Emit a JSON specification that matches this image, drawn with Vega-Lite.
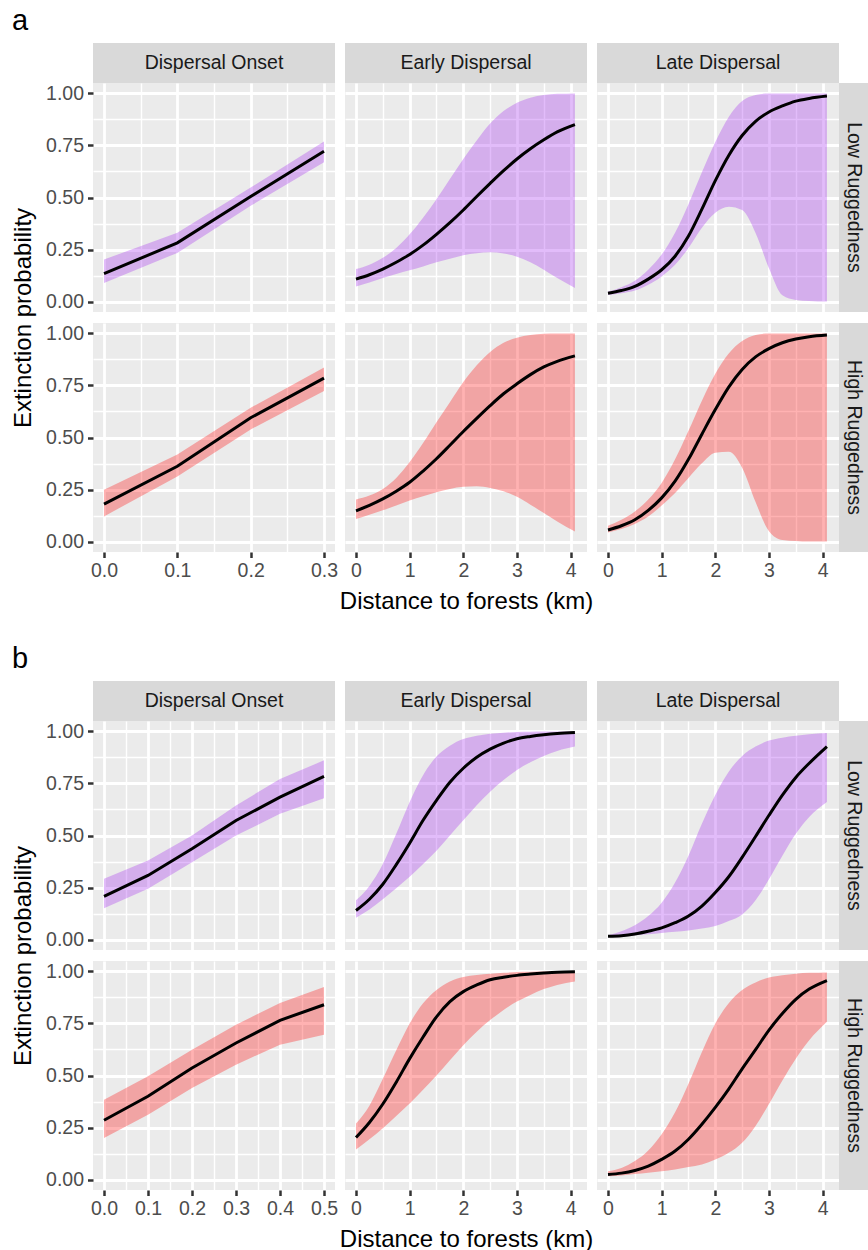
{
"$schema":"https://vega.github.io/schema/vega-lite/v6.json",
"padding":{"left":11,"top":7,"right":0,"bottom":0},
"config":{"font":"Liberation Sans","view":{"stroke":null},
 "axis":{"domain":false,"gridColor":"white","tickColor":"#333333","tickWidth":2.5,"tickSize":5.5,"labelColor":"#4D4D4D","labelFontSize":19.5,"labelPadding":4,"titleFontSize":24,"titleFontWeight":"normal","titleColor":"black","labelOverlap":false,"labelFlush":false}},
"data":{"values":[
{"p":"a","s":"Onset","r":"Low","x":0,"e":0.134,"lo":0.089,"hi":0.202},
{"p":"a","s":"Onset","r":"Low","x":0.1,"e":0.282,"lo":0.234,"hi":0.331},
{"p":"a","s":"Onset","r":"Low","x":0.2,"e":0.505,"lo":0.46,"hi":0.548},
{"p":"a","s":"Onset","r":"Low","x":0.3,"e":0.722,"lo":0.669,"hi":0.769},
{"p":"a","s":"Onset","r":"High","x":0,"e":0.18,"lo":0.121,"hi":0.249},
{"p":"a","s":"Onset","r":"High","x":0.1,"e":0.362,"lo":0.313,"hi":0.418},
{"p":"a","s":"Onset","r":"High","x":0.2,"e":0.595,"lo":0.539,"hi":0.643},
{"p":"a","s":"Onset","r":"High","x":0.3,"e":0.785,"lo":0.723,"hi":0.836},
{"p":"a","s":"Early","r":"Low","x":0,"e":0.108,"lo":0.073,"hi":0.156},
{"p":"a","s":"Early","r":"Low","x":0.25,"e":0.129,"lo":0.092,"hi":0.177},
{"p":"a","s":"Early","r":"Low","x":0.5,"e":0.156,"lo":0.113,"hi":0.21},
{"p":"a","s":"Early","r":"Low","x":0.75,"e":0.189,"lo":0.132,"hi":0.258},
{"p":"a","s":"Early","r":"Low","x":1,"e":0.226,"lo":0.15,"hi":0.323},
{"p":"a","s":"Early","r":"Low","x":1.25,"e":0.271,"lo":0.169,"hi":0.403},
{"p":"a","s":"Early","r":"Low","x":1.5,"e":0.323,"lo":0.189,"hi":0.492},
{"p":"a","s":"Early","r":"Low","x":1.75,"e":0.379,"lo":0.206,"hi":0.589},
{"p":"a","s":"Early","r":"Low","x":2,"e":0.44,"lo":0.223,"hi":0.685},
{"p":"a","s":"Early","r":"Low","x":2.25,"e":0.505,"lo":0.232,"hi":0.774},
{"p":"a","s":"Early","r":"Low","x":2.5,"e":0.568,"lo":0.237,"hi":0.855},
{"p":"a","s":"Early","r":"Low","x":2.75,"e":0.629,"lo":0.231,"hi":0.915},
{"p":"a","s":"Early","r":"Low","x":3,"e":0.685,"lo":0.215,"hi":0.955},
{"p":"a","s":"Early","r":"Low","x":3.25,"e":0.734,"lo":0.189,"hi":0.979},
{"p":"a","s":"Early","r":"Low","x":3.5,"e":0.777,"lo":0.153,"hi":0.992},
{"p":"a","s":"Early","r":"Low","x":3.75,"e":0.815,"lo":0.113,"hi":0.998},
{"p":"a","s":"Early","r":"Low","x":4.08,"e":0.85,"lo":0.065,"hi":1.0},
{"p":"a","s":"Early","r":"High","x":0,"e":0.148,"lo":0.108,"hi":0.202},
{"p":"a","s":"Early","r":"High","x":0.25,"e":0.174,"lo":0.129,"hi":0.221},
{"p":"a","s":"Early","r":"High","x":0.5,"e":0.205,"lo":0.15,"hi":0.253},
{"p":"a","s":"Early","r":"High","x":0.75,"e":0.242,"lo":0.173,"hi":0.306},
{"p":"a","s":"Early","r":"High","x":1,"e":0.285,"lo":0.197,"hi":0.382},
{"p":"a","s":"Early","r":"High","x":1.25,"e":0.339,"lo":0.218,"hi":0.473},
{"p":"a","s":"Early","r":"High","x":1.5,"e":0.398,"lo":0.237,"hi":0.573},
{"p":"a","s":"Early","r":"High","x":1.75,"e":0.463,"lo":0.253,"hi":0.669},
{"p":"a","s":"Early","r":"High","x":2,"e":0.529,"lo":0.263,"hi":0.766},
{"p":"a","s":"Early","r":"High","x":2.25,"e":0.592,"lo":0.266,"hi":0.847},
{"p":"a","s":"Early","r":"High","x":2.5,"e":0.653,"lo":0.258,"hi":0.911},
{"p":"a","s":"Early","r":"High","x":2.75,"e":0.71,"lo":0.242,"hi":0.955},
{"p":"a","s":"Early","r":"High","x":3,"e":0.758,"lo":0.215,"hi":0.979},
{"p":"a","s":"Early","r":"High","x":3.25,"e":0.802,"lo":0.177,"hi":0.992},
{"p":"a","s":"Early","r":"High","x":3.5,"e":0.839,"lo":0.137,"hi":0.998},
{"p":"a","s":"Early","r":"High","x":3.75,"e":0.866,"lo":0.097,"hi":1.0},
{"p":"a","s":"Early","r":"High","x":4.08,"e":0.892,"lo":0.048,"hi":1.0},
{"p":"a","s":"Late","r":"Low","x":0,"e":0.04,"lo":0.032,"hi":0.048},
{"p":"a","s":"Late","r":"Low","x":0.25,"e":0.053,"lo":0.04,"hi":0.069},
{"p":"a","s":"Late","r":"Low","x":0.5,"e":0.073,"lo":0.053,"hi":0.10},
{"p":"a","s":"Late","r":"Low","x":0.75,"e":0.108,"lo":0.081,"hi":0.153},
{"p":"a","s":"Late","r":"Low","x":1,"e":0.153,"lo":0.121,"hi":0.226},
{"p":"a","s":"Late","r":"Low","x":1.25,"e":0.218,"lo":0.177,"hi":0.331},
{"p":"a","s":"Late","r":"Low","x":1.5,"e":0.315,"lo":0.258,"hi":0.468},
{"p":"a","s":"Late","r":"Low","x":1.75,"e":0.444,"lo":0.355,"hi":0.621},
{"p":"a","s":"Late","r":"Low","x":2,"e":0.581,"lo":0.427,"hi":0.766},
{"p":"a","s":"Late","r":"Low","x":2.25,"e":0.702,"lo":0.456,"hi":0.887},
{"p":"a","s":"Late","r":"Low","x":2.5,"e":0.798,"lo":0.44,"hi":0.963},
{"p":"a","s":"Late","r":"Low","x":2.75,"e":0.866,"lo":0.33,"hi":0.992},
{"p":"a","s":"Late","r":"Low","x":3,"e":0.911,"lo":0.16,"hi":1.0},
{"p":"a","s":"Late","r":"Low","x":3.25,"e":0.94,"lo":0.03,"hi":1.0},
{"p":"a","s":"Late","r":"Low","x":3.5,"e":0.963,"lo":0.008,"hi":1.0},
{"p":"a","s":"Late","r":"Low","x":3.75,"e":0.976,"lo":0.003,"hi":1.0},
{"p":"a","s":"Late","r":"Low","x":4.08,"e":0.987,"lo":0.0,"hi":1.0},
{"p":"a","s":"Late","r":"High","x":0,"e":0.056,"lo":0.044,"hi":0.076},
{"p":"a","s":"Late","r":"High","x":0.25,"e":0.076,"lo":0.06,"hi":0.105},
{"p":"a","s":"Late","r":"High","x":0.5,"e":0.105,"lo":0.085,"hi":0.145},
{"p":"a","s":"Late","r":"High","x":0.75,"e":0.15,"lo":0.121,"hi":0.202},
{"p":"a","s":"Late","r":"High","x":1,"e":0.21,"lo":0.173,"hi":0.282},
{"p":"a","s":"Late","r":"High","x":1.25,"e":0.29,"lo":0.234,"hi":0.395},
{"p":"a","s":"Late","r":"High","x":1.5,"e":0.395,"lo":0.306,"hi":0.532},
{"p":"a","s":"Late","r":"High","x":1.75,"e":0.516,"lo":0.376,"hi":0.677},
{"p":"a","s":"Late","r":"High","x":2,"e":0.634,"lo":0.427,"hi":0.806},
{"p":"a","s":"Late","r":"High","x":2.25,"e":0.742,"lo":0.432,"hi":0.903},
{"p":"a","s":"Late","r":"High","x":2.5,"e":0.827,"lo":0.355,"hi":0.963},
{"p":"a","s":"Late","r":"High","x":2.75,"e":0.887,"lo":0.19,"hi":0.992},
{"p":"a","s":"Late","r":"High","x":3,"e":0.927,"lo":0.05,"hi":1.0},
{"p":"a","s":"Late","r":"High","x":3.25,"e":0.955,"lo":0.008,"hi":1.0},
{"p":"a","s":"Late","r":"High","x":3.5,"e":0.973,"lo":0.003,"hi":1.0},
{"p":"a","s":"Late","r":"High","x":3.75,"e":0.984,"lo":0.0,"hi":1.0},
{"p":"a","s":"Late","r":"High","x":4.08,"e":0.992,"lo":0.0,"hi":1.0},
{"p":"b","s":"Onset","r":"Low","x":0,"e":0.208,"lo":0.151,"hi":0.292},
{"p":"b","s":"Onset","r":"Low","x":0.1,"e":0.308,"lo":0.244,"hi":0.38},
{"p":"b","s":"Onset","r":"Low","x":0.2,"e":0.436,"lo":0.372,"hi":0.5},
{"p":"b","s":"Onset","r":"Low","x":0.3,"e":0.572,"lo":0.5,"hi":0.644},
{"p":"b","s":"Onset","r":"Low","x":0.4,"e":0.684,"lo":0.604,"hi":0.772},
{"p":"b","s":"Onset","r":"Low","x":0.5,"e":0.784,"lo":0.679,"hi":0.861},
{"p":"b","s":"Onset","r":"High","x":0,"e":0.285,"lo":0.2,"hi":0.384},
{"p":"b","s":"Onset","r":"High","x":0.1,"e":0.40,"lo":0.312,"hi":0.496},
{"p":"b","s":"Onset","r":"High","x":0.2,"e":0.536,"lo":0.44,"hi":0.624},
{"p":"b","s":"Onset","r":"High","x":0.3,"e":0.656,"lo":0.552,"hi":0.744},
{"p":"b","s":"Onset","r":"High","x":0.4,"e":0.765,"lo":0.648,"hi":0.848},
{"p":"b","s":"Onset","r":"High","x":0.5,"e":0.84,"lo":0.696,"hi":0.925},
{"p":"b","s":"Early","r":"Low","x":0,"e":0.14,"lo":0.105,"hi":0.189},
{"p":"b","s":"Early","r":"Low","x":0.25,"e":0.194,"lo":0.145,"hi":0.258},
{"p":"b","s":"Early","r":"Low","x":0.5,"e":0.266,"lo":0.194,"hi":0.363},
{"p":"b","s":"Early","r":"Low","x":0.75,"e":0.36,"lo":0.247,"hi":0.508},
{"p":"b","s":"Early","r":"Low","x":1,"e":0.463,"lo":0.302,"hi":0.661},
{"p":"b","s":"Early","r":"Low","x":1.25,"e":0.573,"lo":0.363,"hi":0.79},
{"p":"b","s":"Early","r":"Low","x":1.5,"e":0.669,"lo":0.427,"hi":0.879},
{"p":"b","s":"Early","r":"Low","x":1.75,"e":0.756,"lo":0.5,"hi":0.931},
{"p":"b","s":"Early","r":"Low","x":2,"e":0.823,"lo":0.573,"hi":0.963},
{"p":"b","s":"Early","r":"Low","x":2.25,"e":0.876,"lo":0.645,"hi":0.979},
{"p":"b","s":"Early","r":"Low","x":2.5,"e":0.915,"lo":0.71,"hi":0.989},
{"p":"b","s":"Early","r":"Low","x":2.75,"e":0.944,"lo":0.766,"hi":0.994},
{"p":"b","s":"Early","r":"Low","x":3,"e":0.965,"lo":0.815,"hi":0.997},
{"p":"b","s":"Early","r":"Low","x":3.25,"e":0.976,"lo":0.852,"hi":0.998},
{"p":"b","s":"Early","r":"Low","x":3.5,"e":0.984,"lo":0.882,"hi":0.999},
{"p":"b","s":"Early","r":"Low","x":3.75,"e":0.99,"lo":0.906,"hi":1.0},
{"p":"b","s":"Early","r":"Low","x":4.08,"e":0.995,"lo":0.927,"hi":1.0},
{"p":"b","s":"Early","r":"High","x":0,"e":0.202,"lo":0.145,"hi":0.269},
{"p":"b","s":"Early","r":"High","x":0.25,"e":0.274,"lo":0.194,"hi":0.355},
{"p":"b","s":"Early","r":"High","x":0.5,"e":0.363,"lo":0.247,"hi":0.484},
{"p":"b","s":"Early","r":"High","x":0.75,"e":0.468,"lo":0.306,"hi":0.621},
{"p":"b","s":"Early","r":"High","x":1,"e":0.581,"lo":0.366,"hi":0.75},
{"p":"b","s":"Early","r":"High","x":1.25,"e":0.685,"lo":0.431,"hi":0.847},
{"p":"b","s":"Early","r":"High","x":1.5,"e":0.782,"lo":0.5,"hi":0.911},
{"p":"b","s":"Early","r":"High","x":1.75,"e":0.855,"lo":0.573,"hi":0.952},
{"p":"b","s":"Early","r":"High","x":2,"e":0.903,"lo":0.645,"hi":0.973},
{"p":"b","s":"Early","r":"High","x":2.25,"e":0.935,"lo":0.71,"hi":0.983},
{"p":"b","s":"Early","r":"High","x":2.5,"e":0.96,"lo":0.766,"hi":0.989},
{"p":"b","s":"Early","r":"High","x":2.75,"e":0.972,"lo":0.815,"hi":0.993},
{"p":"b","s":"Early","r":"High","x":3,"e":0.981,"lo":0.855,"hi":0.997},
{"p":"b","s":"Early","r":"High","x":3.25,"e":0.987,"lo":0.887,"hi":0.998},
{"p":"b","s":"Early","r":"High","x":3.5,"e":0.992,"lo":0.915,"hi":0.999},
{"p":"b","s":"Early","r":"High","x":3.75,"e":0.996,"lo":0.935,"hi":1.0},
{"p":"b","s":"Early","r":"High","x":4.08,"e":0.998,"lo":0.952,"hi":1.0},
{"p":"b","s":"Late","r":"Low","x":0,"e":0.016,"lo":0.011,"hi":0.021},
{"p":"b","s":"Late","r":"Low","x":0.25,"e":0.019,"lo":0.015,"hi":0.04},
{"p":"b","s":"Late","r":"Low","x":0.5,"e":0.027,"lo":0.021,"hi":0.069},
{"p":"b","s":"Late","r":"Low","x":0.75,"e":0.04,"lo":0.026,"hi":0.113},
{"p":"b","s":"Late","r":"Low","x":1,"e":0.056,"lo":0.032,"hi":0.177},
{"p":"b","s":"Late","r":"Low","x":1.25,"e":0.081,"lo":0.038,"hi":0.274},
{"p":"b","s":"Late","r":"Low","x":1.5,"e":0.113,"lo":0.044,"hi":0.403},
{"p":"b","s":"Late","r":"Low","x":1.75,"e":0.161,"lo":0.053,"hi":0.556},
{"p":"b","s":"Late","r":"Low","x":2,"e":0.226,"lo":0.065,"hi":0.694},
{"p":"b","s":"Late","r":"Low","x":2.25,"e":0.302,"lo":0.089,"hi":0.806},
{"p":"b","s":"Late","r":"Low","x":2.5,"e":0.395,"lo":0.121,"hi":0.882},
{"p":"b","s":"Late","r":"Low","x":2.75,"e":0.495,"lo":0.189,"hi":0.927},
{"p":"b","s":"Late","r":"Low","x":3,"e":0.597,"lo":0.29,"hi":0.956},
{"p":"b","s":"Late","r":"Low","x":3.25,"e":0.694,"lo":0.403,"hi":0.97},
{"p":"b","s":"Late","r":"Low","x":3.5,"e":0.779,"lo":0.508,"hi":0.979},
{"p":"b","s":"Late","r":"Low","x":3.75,"e":0.847,"lo":0.589,"hi":0.986},
{"p":"b","s":"Late","r":"Low","x":4.08,"e":0.927,"lo":0.661,"hi":0.992},
{"p":"b","s":"Late","r":"High","x":0,"e":0.024,"lo":0.016,"hi":0.04},
{"p":"b","s":"Late","r":"High","x":0.25,"e":0.031,"lo":0.02,"hi":0.056},
{"p":"b","s":"Late","r":"High","x":0.5,"e":0.044,"lo":0.027,"hi":0.089},
{"p":"b","s":"Late","r":"High","x":0.75,"e":0.065,"lo":0.033,"hi":0.14},
{"p":"b","s":"Late","r":"High","x":1,"e":0.097,"lo":0.04,"hi":0.218},
{"p":"b","s":"Late","r":"High","x":1.25,"e":0.137,"lo":0.048,"hi":0.323},
{"p":"b","s":"Late","r":"High","x":1.5,"e":0.194,"lo":0.06,"hi":0.46},
{"p":"b","s":"Late","r":"High","x":1.75,"e":0.266,"lo":0.073,"hi":0.613},
{"p":"b","s":"Late","r":"High","x":2,"e":0.347,"lo":0.097,"hi":0.75},
{"p":"b","s":"Late","r":"High","x":2.25,"e":0.435,"lo":0.129,"hi":0.847},
{"p":"b","s":"Late","r":"High","x":2.5,"e":0.532,"lo":0.177,"hi":0.911},
{"p":"b","s":"Late","r":"High","x":2.75,"e":0.624,"lo":0.258,"hi":0.947},
{"p":"b","s":"Late","r":"High","x":3,"e":0.718,"lo":0.363,"hi":0.971},
{"p":"b","s":"Late","r":"High","x":3.25,"e":0.798,"lo":0.476,"hi":0.982},
{"p":"b","s":"Late","r":"High","x":3.5,"e":0.866,"lo":0.581,"hi":0.989},
{"p":"b","s":"Late","r":"High","x":3.75,"e":0.915,"lo":0.669,"hi":0.993},
{"p":"b","s":"Late","r":"High","x":4.08,"e":0.956,"lo":0.758,"hi":0.995}
]},
"columns":6,"spacing":0,"bounds":"flush","align":"each",
"concat":[
{"width":242,"height":40,"view":{"fill":"#D9D9D9"},"title":{"text":"a","anchor":"start","frame":"group","dx":-81,"fontSize":29,"fontWeight":"normal","color":"black","offset":7},"data":{"values":[{"t":"Dispersal Onset"}]},"mark":{"type":"text","fontSize":19.5,"color":"#1A1A1A"},"encoding":{"text":{"field":"t","type":"nominal"}}},
{"width":10,"height":40,"data":{"values":[]},"mark":"point"},
{"width":242,"height":40,"view":{"fill":"#D9D9D9"},"data":{"values":[{"t":"Early Dispersal"}]},"mark":{"type":"text","fontSize":19.5,"color":"#1A1A1A"},"encoding":{"text":{"field":"t","type":"nominal"}}},
{"width":10,"height":40,"data":{"values":[]},"mark":"point"},
{"width":242,"height":40,"view":{"fill":"#D9D9D9"},"data":{"values":[{"t":"Late Dispersal"}]},"mark":{"type":"text","fontSize":19.5,"color":"#1A1A1A"},"encoding":{"text":{"field":"t","type":"nominal"}}},
{"width":29,"height":40,"data":{"values":[]},"mark":"point"},

{"width":242,"height":229,"view":{"fill":"#EBEBEB"},"transform":[{"filter":"datum.p=='a'&&datum.s=='Onset'&&datum.r=='Low'"}],
 "layer":[
  {"mark":{"type":"area","fillOpacity":0.3,"interpolate":"linear"},"encoding":{
   "x":{"field":"x","type":"quantitative","scale":{"domain":[-0.015,0.315],"nice":false,"zero":false},"axis":{"orient":"bottom","values":[0.05,0.15,0.25],"grid":true,"gridWidth":1.4,"labels":false,"ticks":false,"title":null}},
   "y":{"field":"lo","type":"quantitative","stack":null,"scale":{"domain":[-0.05,1.05],"nice":false,"zero":false},"axis":{"orient":"left","values":[0.125,0.375,0.625,0.875],"grid":true,"gridWidth":1.4,"labels":false,"ticks":false,"title":null}},
   "y2":{"field":"hi"},
   "color":{"field":"r","type":"nominal","scale":{"domain":["Low","High"],"range":["#A020F0","#FF0000"]},"legend":null}}},
  {"mark":{"type":"line","color":"black","strokeWidth":3,"interpolate":"linear"},"encoding":{
   "x":{"field":"x","type":"quantitative","axis":{"orient":"bottom","values":[0,0.1,0.2,0.3],"grid":true,"gridWidth":2.8,"labels":false,"ticks":false,"title":null}},
   "y":{"field":"e","type":"quantitative","axis":{"orient":"left","values":[0,0.25,0.5,0.75,1],"format":".2f","grid":true,"gridWidth":2.8,"title":"Extinction probability","titleX":-58,"titleY":234.5}}}}],
 "resolve":{"axis":{"x":"independent","y":"independent"}}},
{"width":10,"height":229,"data":{"values":[]},"mark":"point"},
{"width":242,"height":229,"view":{"fill":"#EBEBEB"},"transform":[{"filter":"datum.p=='a'&&datum.s=='Early'&&datum.r=='Low'"}],
 "layer":[
  {"mark":{"type":"area","fillOpacity":0.3,"interpolate":"monotone"},"encoding":{
   "x":{"field":"x","type":"quantitative","scale":{"domain":[-0.205,4.305],"nice":false,"zero":false},"axis":{"orient":"bottom","values":[0.5,1.5,2.5,3.5],"grid":true,"gridWidth":1.4,"labels":false,"ticks":false,"title":null}},
   "y":{"field":"lo","type":"quantitative","stack":null,"scale":{"domain":[-0.05,1.05],"nice":false,"zero":false},"axis":{"orient":"left","values":[0.125,0.375,0.625,0.875],"grid":true,"gridWidth":1.4,"labels":false,"ticks":false,"title":null}},
   "y2":{"field":"hi"},
   "color":{"field":"r","type":"nominal","scale":{"domain":["Low","High"],"range":["#A020F0","#FF0000"]},"legend":null}}},
  {"mark":{"type":"line","color":"black","strokeWidth":3,"interpolate":"monotone"},"encoding":{
   "x":{"field":"x","type":"quantitative","axis":{"orient":"bottom","values":[0,1,2,3,4],"grid":true,"gridWidth":2.8,"labels":false,"ticks":false,"title":null}},
   "y":{"field":"e","type":"quantitative","axis":{"orient":"left","values":[0,0.25,0.5,0.75,1],"grid":true,"gridWidth":2.8,"labels":false,"ticks":false,"title":null}}}}],
 "resolve":{"axis":{"x":"independent","y":"independent"}}},
{"width":10,"height":229,"data":{"values":[]},"mark":"point"},
{"width":242,"height":229,"view":{"fill":"#EBEBEB"},"transform":[{"filter":"datum.p=='a'&&datum.s=='Late'&&datum.r=='Low'"}],
 "layer":[
  {"mark":{"type":"area","fillOpacity":0.3,"interpolate":"monotone"},"encoding":{
   "x":{"field":"x","type":"quantitative","scale":{"domain":[-0.205,4.305],"nice":false,"zero":false},"axis":{"orient":"bottom","values":[0.5,1.5,2.5,3.5],"grid":true,"gridWidth":1.4,"labels":false,"ticks":false,"title":null}},
   "y":{"field":"lo","type":"quantitative","stack":null,"scale":{"domain":[-0.05,1.05],"nice":false,"zero":false},"axis":{"orient":"left","values":[0.125,0.375,0.625,0.875],"grid":true,"gridWidth":1.4,"labels":false,"ticks":false,"title":null}},
   "y2":{"field":"hi"},
   "color":{"field":"r","type":"nominal","scale":{"domain":["Low","High"],"range":["#A020F0","#FF0000"]},"legend":null}}},
  {"mark":{"type":"line","color":"black","strokeWidth":3,"interpolate":"monotone"},"encoding":{
   "x":{"field":"x","type":"quantitative","axis":{"orient":"bottom","values":[0,1,2,3,4],"grid":true,"gridWidth":2.8,"labels":false,"ticks":false,"title":null}},
   "y":{"field":"e","type":"quantitative","axis":{"orient":"left","values":[0,0.25,0.5,0.75,1],"grid":true,"gridWidth":2.8,"labels":false,"ticks":false,"title":null}}}}],
 "resolve":{"axis":{"x":"independent","y":"independent"}}},
{"width":29,"height":229,"view":{"fill":"#D9D9D9"},"data":{"values":[{"t":"Low Ruggedness"}]},"mark":{"type":"text","fontSize":19.5,"color":"#1A1A1A","angle":90},"encoding":{"text":{"field":"t","type":"nominal"}}},

{"width":242,"height":11,"data":{"values":[]},"mark":"point"},
{"width":10,"height":11,"data":{"values":[]},"mark":"point"},
{"width":242,"height":11,"data":{"values":[]},"mark":"point"},
{"width":10,"height":11,"data":{"values":[]},"mark":"point"},
{"width":242,"height":11,"data":{"values":[]},"mark":"point"},
{"width":29,"height":11,"data":{"values":[]},"mark":"point"},

{"width":242,"height":229,"view":{"fill":"#EBEBEB"},"transform":[{"filter":"datum.p=='a'&&datum.s=='Onset'&&datum.r=='High'"}],
 "layer":[
  {"mark":{"type":"area","fillOpacity":0.3,"interpolate":"linear"},"encoding":{
   "x":{"field":"x","type":"quantitative","scale":{"domain":[-0.015,0.315],"nice":false,"zero":false},"axis":{"orient":"bottom","values":[0.05,0.15,0.25],"grid":true,"gridWidth":1.4,"labels":false,"ticks":false,"title":null}},
   "y":{"field":"lo","type":"quantitative","stack":null,"scale":{"domain":[-0.05,1.05],"nice":false,"zero":false},"axis":{"orient":"left","values":[0.125,0.375,0.625,0.875],"grid":true,"gridWidth":1.4,"labels":false,"ticks":false,"title":null}},
   "y2":{"field":"hi"},
   "color":{"field":"r","type":"nominal","scale":{"domain":["Low","High"],"range":["#A020F0","#FF0000"]},"legend":null}}},
  {"mark":{"type":"line","color":"black","strokeWidth":3,"interpolate":"linear"},"encoding":{
   "x":{"field":"x","type":"quantitative","axis":{"orient":"bottom","values":[0,0.1,0.2,0.3],"format":".1f","grid":true,"gridWidth":2.8,"labelFlush":false,"title":null}},
   "y":{"field":"e","type":"quantitative","axis":{"orient":"left","values":[0,0.25,0.5,0.75,1],"format":".2f","grid":true,"gridWidth":2.8,"title":null}}}}],
 "resolve":{"axis":{"x":"independent","y":"independent"}}},
{"width":10,"height":229,"data":{"values":[]},"mark":"point"},
{"width":242,"height":229,"view":{"fill":"#EBEBEB"},"transform":[{"filter":"datum.p=='a'&&datum.s=='Early'&&datum.r=='High'"}],
 "layer":[
  {"mark":{"type":"area","fillOpacity":0.3,"interpolate":"monotone"},"encoding":{
   "x":{"field":"x","type":"quantitative","scale":{"domain":[-0.205,4.305],"nice":false,"zero":false},"axis":{"orient":"bottom","values":[0.5,1.5,2.5,3.5],"grid":true,"gridWidth":1.4,"labels":false,"ticks":false,"title":null}},
   "y":{"field":"lo","type":"quantitative","stack":null,"scale":{"domain":[-0.05,1.05],"nice":false,"zero":false},"axis":{"orient":"left","values":[0.125,0.375,0.625,0.875],"grid":true,"gridWidth":1.4,"labels":false,"ticks":false,"title":null}},
   "y2":{"field":"hi"},
   "color":{"field":"r","type":"nominal","scale":{"domain":["Low","High"],"range":["#A020F0","#FF0000"]},"legend":null}}},
  {"mark":{"type":"line","color":"black","strokeWidth":3,"interpolate":"monotone"},"encoding":{
   "x":{"field":"x","type":"quantitative","axis":{"orient":"bottom","values":[0,1,2,3,4],"format":"d","grid":true,"gridWidth":2.8,"labelFlush":false,"title":"Distance to forests (km)","titlePadding":9}},
   "y":{"field":"e","type":"quantitative","axis":{"orient":"left","values":[0,0.25,0.5,0.75,1],"grid":true,"gridWidth":2.8,"labels":false,"ticks":false,"title":null}}}}],
 "resolve":{"axis":{"x":"independent","y":"independent"}}},
{"width":10,"height":229,"data":{"values":[]},"mark":"point"},
{"width":242,"height":229,"view":{"fill":"#EBEBEB"},"transform":[{"filter":"datum.p=='a'&&datum.s=='Late'&&datum.r=='High'"}],
 "layer":[
  {"mark":{"type":"area","fillOpacity":0.3,"interpolate":"monotone"},"encoding":{
   "x":{"field":"x","type":"quantitative","scale":{"domain":[-0.205,4.305],"nice":false,"zero":false},"axis":{"orient":"bottom","values":[0.5,1.5,2.5,3.5],"grid":true,"gridWidth":1.4,"labels":false,"ticks":false,"title":null}},
   "y":{"field":"lo","type":"quantitative","stack":null,"scale":{"domain":[-0.05,1.05],"nice":false,"zero":false},"axis":{"orient":"left","values":[0.125,0.375,0.625,0.875],"grid":true,"gridWidth":1.4,"labels":false,"ticks":false,"title":null}},
   "y2":{"field":"hi"},
   "color":{"field":"r","type":"nominal","scale":{"domain":["Low","High"],"range":["#A020F0","#FF0000"]},"legend":null}}},
  {"mark":{"type":"line","color":"black","strokeWidth":3,"interpolate":"monotone"},"encoding":{
   "x":{"field":"x","type":"quantitative","axis":{"orient":"bottom","values":[0,1,2,3,4],"format":"d","grid":true,"gridWidth":2.8,"labelFlush":false,"title":null}},
   "y":{"field":"e","type":"quantitative","axis":{"orient":"left","values":[0,0.25,0.5,0.75,1],"grid":true,"gridWidth":2.8,"labels":false,"ticks":false,"title":null}}}}],
 "resolve":{"axis":{"x":"independent","y":"independent"}}},
{"width":29,"height":229,"view":{"fill":"#D9D9D9"},"data":{"values":[{"t":"High Ruggedness"}]},"mark":{"type":"text","fontSize":19.5,"color":"#1A1A1A","angle":90},"encoding":{"text":{"field":"t","type":"nominal"}}},

{"width":242,"height":129,"data":{"values":[]},"mark":"point"},
{"width":10,"height":129,"data":{"values":[]},"mark":"point"},
{"width":242,"height":129,"data":{"values":[]},"mark":"point"},
{"width":10,"height":129,"data":{"values":[]},"mark":"point"},
{"width":242,"height":129,"data":{"values":[]},"mark":"point"},
{"width":29,"height":129,"data":{"values":[]},"mark":"point"},

{"width":242,"height":40,"view":{"fill":"#D9D9D9"},"title":{"text":"b","anchor":"start","frame":"group","dx":-81,"fontSize":29,"fontWeight":"normal","color":"black","offset":7},"data":{"values":[{"t":"Dispersal Onset"}]},"mark":{"type":"text","fontSize":19.5,"color":"#1A1A1A"},"encoding":{"text":{"field":"t","type":"nominal"}}},
{"width":10,"height":40,"data":{"values":[]},"mark":"point"},
{"width":242,"height":40,"view":{"fill":"#D9D9D9"},"data":{"values":[{"t":"Early Dispersal"}]},"mark":{"type":"text","fontSize":19.5,"color":"#1A1A1A"},"encoding":{"text":{"field":"t","type":"nominal"}}},
{"width":10,"height":40,"data":{"values":[]},"mark":"point"},
{"width":242,"height":40,"view":{"fill":"#D9D9D9"},"data":{"values":[{"t":"Late Dispersal"}]},"mark":{"type":"text","fontSize":19.5,"color":"#1A1A1A"},"encoding":{"text":{"field":"t","type":"nominal"}}},
{"width":29,"height":40,"data":{"values":[]},"mark":"point"},

{"width":242,"height":229,"view":{"fill":"#EBEBEB"},"transform":[{"filter":"datum.p=='b'&&datum.s=='Onset'&&datum.r=='Low'"}],
 "layer":[
  {"mark":{"type":"area","fillOpacity":0.3,"interpolate":"linear"},"encoding":{
   "x":{"field":"x","type":"quantitative","scale":{"domain":[-0.025,0.525],"nice":false,"zero":false},"axis":{"orient":"bottom","values":[0.05,0.15,0.25,0.35,0.45],"grid":true,"gridWidth":1.4,"labels":false,"ticks":false,"title":null}},
   "y":{"field":"lo","type":"quantitative","stack":null,"scale":{"domain":[-0.05,1.05],"nice":false,"zero":false},"axis":{"orient":"left","values":[0.125,0.375,0.625,0.875],"grid":true,"gridWidth":1.4,"labels":false,"ticks":false,"title":null}},
   "y2":{"field":"hi"},
   "color":{"field":"r","type":"nominal","scale":{"domain":["Low","High"],"range":["#A020F0","#FF0000"]},"legend":null}}},
  {"mark":{"type":"line","color":"black","strokeWidth":3,"interpolate":"linear"},"encoding":{
   "x":{"field":"x","type":"quantitative","axis":{"orient":"bottom","values":[0,0.1,0.2,0.3,0.4,0.5],"grid":true,"gridWidth":2.8,"labels":false,"ticks":false,"title":null}},
   "y":{"field":"e","type":"quantitative","axis":{"orient":"left","values":[0,0.25,0.5,0.75,1],"format":".2f","grid":true,"gridWidth":2.8,"title":"Extinction probability","titleX":-58,"titleY":234.5}}}}],
 "resolve":{"axis":{"x":"independent","y":"independent"}}},
{"width":10,"height":229,"data":{"values":[]},"mark":"point"},
{"width":242,"height":229,"view":{"fill":"#EBEBEB"},"transform":[{"filter":"datum.p=='b'&&datum.s=='Early'&&datum.r=='Low'"}],
 "layer":[
  {"mark":{"type":"area","fillOpacity":0.3,"interpolate":"monotone"},"encoding":{
   "x":{"field":"x","type":"quantitative","scale":{"domain":[-0.205,4.305],"nice":false,"zero":false},"axis":{"orient":"bottom","values":[0.5,1.5,2.5,3.5],"grid":true,"gridWidth":1.4,"labels":false,"ticks":false,"title":null}},
   "y":{"field":"lo","type":"quantitative","stack":null,"scale":{"domain":[-0.05,1.05],"nice":false,"zero":false},"axis":{"orient":"left","values":[0.125,0.375,0.625,0.875],"grid":true,"gridWidth":1.4,"labels":false,"ticks":false,"title":null}},
   "y2":{"field":"hi"},
   "color":{"field":"r","type":"nominal","scale":{"domain":["Low","High"],"range":["#A020F0","#FF0000"]},"legend":null}}},
  {"mark":{"type":"line","color":"black","strokeWidth":3,"interpolate":"monotone"},"encoding":{
   "x":{"field":"x","type":"quantitative","axis":{"orient":"bottom","values":[0,1,2,3,4],"grid":true,"gridWidth":2.8,"labels":false,"ticks":false,"title":null}},
   "y":{"field":"e","type":"quantitative","axis":{"orient":"left","values":[0,0.25,0.5,0.75,1],"grid":true,"gridWidth":2.8,"labels":false,"ticks":false,"title":null}}}}],
 "resolve":{"axis":{"x":"independent","y":"independent"}}},
{"width":10,"height":229,"data":{"values":[]},"mark":"point"},
{"width":242,"height":229,"view":{"fill":"#EBEBEB"},"transform":[{"filter":"datum.p=='b'&&datum.s=='Late'&&datum.r=='Low'"}],
 "layer":[
  {"mark":{"type":"area","fillOpacity":0.3,"interpolate":"monotone"},"encoding":{
   "x":{"field":"x","type":"quantitative","scale":{"domain":[-0.205,4.305],"nice":false,"zero":false},"axis":{"orient":"bottom","values":[0.5,1.5,2.5,3.5],"grid":true,"gridWidth":1.4,"labels":false,"ticks":false,"title":null}},
   "y":{"field":"lo","type":"quantitative","stack":null,"scale":{"domain":[-0.05,1.05],"nice":false,"zero":false},"axis":{"orient":"left","values":[0.125,0.375,0.625,0.875],"grid":true,"gridWidth":1.4,"labels":false,"ticks":false,"title":null}},
   "y2":{"field":"hi"},
   "color":{"field":"r","type":"nominal","scale":{"domain":["Low","High"],"range":["#A020F0","#FF0000"]},"legend":null}}},
  {"mark":{"type":"line","color":"black","strokeWidth":3,"interpolate":"monotone"},"encoding":{
   "x":{"field":"x","type":"quantitative","axis":{"orient":"bottom","values":[0,1,2,3,4],"grid":true,"gridWidth":2.8,"labels":false,"ticks":false,"title":null}},
   "y":{"field":"e","type":"quantitative","axis":{"orient":"left","values":[0,0.25,0.5,0.75,1],"grid":true,"gridWidth":2.8,"labels":false,"ticks":false,"title":null}}}}],
 "resolve":{"axis":{"x":"independent","y":"independent"}}},
{"width":29,"height":229,"view":{"fill":"#D9D9D9"},"data":{"values":[{"t":"Low Ruggedness"}]},"mark":{"type":"text","fontSize":19.5,"color":"#1A1A1A","angle":90},"encoding":{"text":{"field":"t","type":"nominal"}}},

{"width":242,"height":11,"data":{"values":[]},"mark":"point"},
{"width":10,"height":11,"data":{"values":[]},"mark":"point"},
{"width":242,"height":11,"data":{"values":[]},"mark":"point"},
{"width":10,"height":11,"data":{"values":[]},"mark":"point"},
{"width":242,"height":11,"data":{"values":[]},"mark":"point"},
{"width":29,"height":11,"data":{"values":[]},"mark":"point"},

{"width":242,"height":229,"view":{"fill":"#EBEBEB"},"transform":[{"filter":"datum.p=='b'&&datum.s=='Onset'&&datum.r=='High'"}],
 "layer":[
  {"mark":{"type":"area","fillOpacity":0.3,"interpolate":"linear"},"encoding":{
   "x":{"field":"x","type":"quantitative","scale":{"domain":[-0.025,0.525],"nice":false,"zero":false},"axis":{"orient":"bottom","values":[0.05,0.15,0.25,0.35,0.45],"grid":true,"gridWidth":1.4,"labels":false,"ticks":false,"title":null}},
   "y":{"field":"lo","type":"quantitative","stack":null,"scale":{"domain":[-0.05,1.05],"nice":false,"zero":false},"axis":{"orient":"left","values":[0.125,0.375,0.625,0.875],"grid":true,"gridWidth":1.4,"labels":false,"ticks":false,"title":null}},
   "y2":{"field":"hi"},
   "color":{"field":"r","type":"nominal","scale":{"domain":["Low","High"],"range":["#A020F0","#FF0000"]},"legend":null}}},
  {"mark":{"type":"line","color":"black","strokeWidth":3,"interpolate":"linear"},"encoding":{
   "x":{"field":"x","type":"quantitative","axis":{"orient":"bottom","values":[0,0.1,0.2,0.3,0.4,0.5],"format":".1f","grid":true,"gridWidth":2.8,"labelFlush":false,"title":null}},
   "y":{"field":"e","type":"quantitative","axis":{"orient":"left","values":[0,0.25,0.5,0.75,1],"format":".2f","grid":true,"gridWidth":2.8,"title":null}}}}],
 "resolve":{"axis":{"x":"independent","y":"independent"}}},
{"width":10,"height":229,"data":{"values":[]},"mark":"point"},
{"width":242,"height":229,"view":{"fill":"#EBEBEB"},"transform":[{"filter":"datum.p=='b'&&datum.s=='Early'&&datum.r=='High'"}],
 "layer":[
  {"mark":{"type":"area","fillOpacity":0.3,"interpolate":"monotone"},"encoding":{
   "x":{"field":"x","type":"quantitative","scale":{"domain":[-0.205,4.305],"nice":false,"zero":false},"axis":{"orient":"bottom","values":[0.5,1.5,2.5,3.5],"grid":true,"gridWidth":1.4,"labels":false,"ticks":false,"title":null}},
   "y":{"field":"lo","type":"quantitative","stack":null,"scale":{"domain":[-0.05,1.05],"nice":false,"zero":false},"axis":{"orient":"left","values":[0.125,0.375,0.625,0.875],"grid":true,"gridWidth":1.4,"labels":false,"ticks":false,"title":null}},
   "y2":{"field":"hi"},
   "color":{"field":"r","type":"nominal","scale":{"domain":["Low","High"],"range":["#A020F0","#FF0000"]},"legend":null}}},
  {"mark":{"type":"line","color":"black","strokeWidth":3,"interpolate":"monotone"},"encoding":{
   "x":{"field":"x","type":"quantitative","axis":{"orient":"bottom","values":[0,1,2,3,4],"format":"d","grid":true,"gridWidth":2.8,"labelFlush":false,"title":"Distance to forests (km)","titlePadding":9}},
   "y":{"field":"e","type":"quantitative","axis":{"orient":"left","values":[0,0.25,0.5,0.75,1],"grid":true,"gridWidth":2.8,"labels":false,"ticks":false,"title":null}}}}],
 "resolve":{"axis":{"x":"independent","y":"independent"}}},
{"width":10,"height":229,"data":{"values":[]},"mark":"point"},
{"width":242,"height":229,"view":{"fill":"#EBEBEB"},"transform":[{"filter":"datum.p=='b'&&datum.s=='Late'&&datum.r=='High'"}],
 "layer":[
  {"mark":{"type":"area","fillOpacity":0.3,"interpolate":"monotone"},"encoding":{
   "x":{"field":"x","type":"quantitative","scale":{"domain":[-0.205,4.305],"nice":false,"zero":false},"axis":{"orient":"bottom","values":[0.5,1.5,2.5,3.5],"grid":true,"gridWidth":1.4,"labels":false,"ticks":false,"title":null}},
   "y":{"field":"lo","type":"quantitative","stack":null,"scale":{"domain":[-0.05,1.05],"nice":false,"zero":false},"axis":{"orient":"left","values":[0.125,0.375,0.625,0.875],"grid":true,"gridWidth":1.4,"labels":false,"ticks":false,"title":null}},
   "y2":{"field":"hi"},
   "color":{"field":"r","type":"nominal","scale":{"domain":["Low","High"],"range":["#A020F0","#FF0000"]},"legend":null}}},
  {"mark":{"type":"line","color":"black","strokeWidth":3,"interpolate":"monotone"},"encoding":{
   "x":{"field":"x","type":"quantitative","axis":{"orient":"bottom","values":[0,1,2,3,4],"format":"d","grid":true,"gridWidth":2.8,"labelFlush":false,"title":null}},
   "y":{"field":"e","type":"quantitative","axis":{"orient":"left","values":[0,0.25,0.5,0.75,1],"grid":true,"gridWidth":2.8,"labels":false,"ticks":false,"title":null}}}}],
 "resolve":{"axis":{"x":"independent","y":"independent"}}},
{"width":29,"height":229,"view":{"fill":"#D9D9D9"},"data":{"values":[{"t":"High Ruggedness"}]},"mark":{"type":"text","fontSize":19.5,"color":"#1A1A1A","angle":90},"encoding":{"text":{"field":"t","type":"nominal"}}}
]
}
